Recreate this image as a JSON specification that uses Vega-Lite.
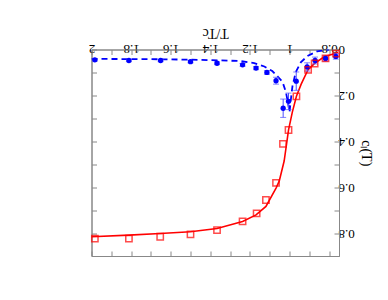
{
  "$schema": "https://vega.github.io/schema/vega-lite/v6.json",
  "autosize": {"type": "none"},
  "width": 247.5,
  "height": 206.5,
  "padding": {"left": 91.5, "top": 49.5, "right": 49, "bottom": 44},
  "background": "white",
  "config": {
    "view": {"stroke": "#888888", "strokeWidth": 1},
    "axis": {
      "labelFont": "Liberation Serif",
      "titleFont": "Liberation Serif",
      "labelFontSize": 13,
      "titleFontSize": 14,
      "titleFontWeight": "normal",
      "labelColor": "black",
      "titleColor": "black",
      "domainColor": "#888888",
      "tickColor": "#888888",
      "grid": false,
      "labelFlush": false,
      "labelOverlap": false
    }
  },
  "datasets": {
    "redpts": [
      {"T": 1.983, "c": 0.824}, {"T": 1.811, "c": 0.824}, {"T": 1.653, "c": 0.816},
      {"T": 1.5, "c": 0.806}, {"T": 1.366, "c": 0.787}, {"T": 1.237, "c": 0.749},
      {"T": 1.166, "c": 0.714}, {"T": 1.119, "c": 0.656}, {"T": 1.068, "c": 0.581},
      {"T": 1.033, "c": 0.411}, {"T": 1.005, "c": 0.351}, {"T": 0.965, "c": 0.204},
      {"T": 0.906, "c": 0.089}, {"T": 0.873, "c": 0.061}, {"T": 0.818, "c": 0.039},
      {"T": 0.765, "c": 0.018}
    ],
    "redline": [
      {"T": 2.0, "c": 0.816}, {"T": 1.811, "c": 0.809}, {"T": 1.653, "c": 0.802},
      {"T": 1.5, "c": 0.794}, {"T": 1.366, "c": 0.78}, {"T": 1.237, "c": 0.75},
      {"T": 1.169, "c": 0.721}, {"T": 1.119, "c": 0.684}, {"T": 1.068, "c": 0.604},
      {"T": 1.052, "c": 0.574}, {"T": 1.027, "c": 0.486}, {"T": 1.005, "c": 0.351},
      {"T": 0.986, "c": 0.274}, {"T": 0.965, "c": 0.204}, {"T": 0.941, "c": 0.151},
      {"T": 0.907, "c": 0.089}, {"T": 0.876, "c": 0.063}, {"T": 0.825, "c": 0.032},
      {"T": 0.766, "c": 0.016}, {"T": 0.755, "c": 0.012}
    ],
    "bluepts": [
      {"T": 1.983, "c": 0.045, "err": 0.005}, {"T": 1.811, "c": 0.048, "err": 0.005},
      {"T": 1.651, "c": 0.048, "err": 0.005}, {"T": 1.5, "c": 0.053, "err": 0.005},
      {"T": 1.366, "c": 0.06, "err": 0.006}, {"T": 1.237, "c": 0.067, "err": 0.006},
      {"T": 1.169, "c": 0.081, "err": 0.007}, {"T": 1.114, "c": 0.1, "err": 0.008},
      {"T": 1.068, "c": 0.136, "err": 0.015}, {"T": 1.032, "c": 0.256, "err": 0.04},
      {"T": 1.005, "c": 0.226, "err": 0.036}, {"T": 0.966, "c": 0.138, "err": 0.04},
      {"T": 0.911, "c": 0.076, "err": 0.018}, {"T": 0.871, "c": 0.048, "err": 0.015},
      {"T": 0.818, "c": 0.039, "err": 0.012}, {"T": 0.766, "c": 0.03, "err": 0.012}
    ],
    "blueline": [
      {"T": 2.0, "c": 0.041}, {"T": 1.706, "c": 0.042}, {"T": 1.455, "c": 0.045},
      {"T": 1.253, "c": 0.05}, {"T": 1.178, "c": 0.059}, {"T": 1.127, "c": 0.074},
      {"T": 1.087, "c": 0.094}, {"T": 1.057, "c": 0.12}, {"T": 1.035, "c": 0.142},
      {"T": 1.018, "c": 0.186}, {"T": 1.007, "c": 0.235}, {"T": 1.0, "c": 0.274},
      {"T": 0.993, "c": 0.217}, {"T": 0.985, "c": 0.16}, {"T": 0.968, "c": 0.098},
      {"T": 0.943, "c": 0.056}, {"T": 0.909, "c": 0.028}, {"T": 0.861, "c": 0.008},
      {"T": 0.8, "c": 0.0}
    ]
  },
  "resolve": {"axis": {"x": "independent", "y": "independent"}},
  "layer": [
    {
      "data": {"name": "redline"},
      "mark": {"type": "line", "color": "#ff0000", "strokeWidth": 1.6, "clip": true},
      "encoding": {
        "x": {
          "field": "T", "type": "quantitative",
          "scale": {"domain": [0.75, 2], "reverse": true, "nice": false, "zero": false},
          "axis": {
            "orient": "top", "title": "T/Tc",
            "values": [0.8, 0.9, 1.0, 1.1, 1.2, 1.3, 1.4, 1.5, 1.6, 1.7, 1.8, 1.9, 2.0],
            "labelExpr": "round(datum.value*10) % 2 == 0 ? format(datum.value, '~g') : ''",
            "labelAngle": 180, "labelBaseline": "top", "labelAlign": "center",
            "labelPadding": 0, "tickSize": -5,
            "titleAngle": 180, "titleBaseline": "top", "titlePadding": 2
          }
        },
        "y": {
          "field": "c", "type": "quantitative",
          "scale": {"domain": [0, 0.9], "reverse": true, "nice": false},
          "axis": {
            "orient": "right", "title": "cₗ(T)",
            "values": [0, 0.1, 0.2, 0.3, 0.4, 0.5, 0.6, 0.7, 0.8],
            "labelExpr": "round(datum.value*10) % 2 == 0 ? format(datum.value, '~g') : ''",
            "labelAngle": 180, "labelAlign": "right", "labelBaseline": "middle",
            "labelPadding": 4, "tickSize": -5,
            "titleAngle": 90, "titlePadding": 4
          }
        }
      }
    },
    {
      "data": {"name": "blueline"},
      "mark": {"type": "line", "color": "#0000ff", "strokeWidth": 1.8, "strokeDash": [6, 4], "clip": true},
      "encoding": {
        "x": {"field": "T", "type": "quantitative", "axis": null},
        "y": {"field": "c", "type": "quantitative", "axis": null}
      }
    },
    {
      "data": {"name": "bluepts"},
      "mark": {"type": "errorbar", "ticks": {"size": 6, "color": "#5050ff"}, "color": "#5050ff"},
      "encoding": {
        "x": {"field": "T", "type": "quantitative", "axis": null},
        "y": {"field": "c", "type": "quantitative", "axis": null},
        "yError": {"field": "err"}
      }
    },
    {
      "data": {"name": "bluepts"},
      "mark": {"type": "circle", "color": "#0000ff", "opacity": 1, "size": 28},
      "encoding": {
        "x": {"field": "T", "type": "quantitative", "axis": null},
        "y": {"field": "c", "type": "quantitative", "axis": null}
      }
    },
    {
      "data": {"name": "redpts"},
      "mark": {"type": "square", "filled": false, "color": "#ff0000", "strokeWidth": 1.5, "size": 40},
      "encoding": {
        "x": {
          "field": "T", "type": "quantitative",
          "axis": {
            "orient": "bottom", "title": null, "labels": false, "tickSize": -5,
            "values": [0.8, 0.9, 1.0, 1.1, 1.2, 1.3, 1.4, 1.5, 1.6, 1.7, 1.8, 1.9, 2.0]
          }
        },
        "y": {
          "field": "c", "type": "quantitative",
          "axis": {
            "orient": "left", "title": null, "labels": false, "tickSize": -5,
            "values": [0, 0.1, 0.2, 0.3, 0.4, 0.5, 0.6, 0.7, 0.8]
          }
        }
      }
    }
  ]
}
